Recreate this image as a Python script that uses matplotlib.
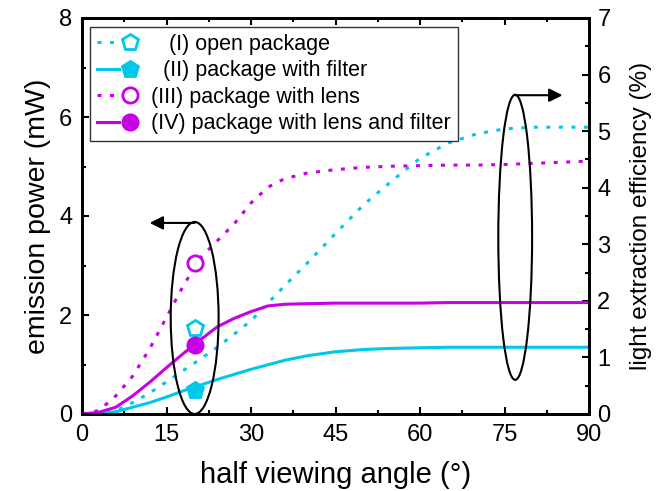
import matplotlib
matplotlib.use("Agg")
import matplotlib.pyplot as plt
from matplotlib.patches import Ellipse
from matplotlib.legend_handler import HandlerTuple
from matplotlib.ticker import MultipleLocator

plt.rcParams['font.family'] = ['Liberation Sans', 'DejaVu Sans']

# half viewing angle (deg)
angle = [0, 3, 6, 9, 12, 15, 18, 21, 24, 27, 30, 33, 36, 40, 45, 50, 55, 60,
         65, 70, 75, 80, 85, 90]

# light extraction efficiency (%)
eff_open = [0, 0.0, 0.06, 0.2, 0.37, 0.57, 0.77, 0.97, 1.18, 1.41, 1.65, 1.96,
            2.27, 2.67, 3.19, 3.70, 4.12, 4.52, 4.79, 4.95, 5.04, 5.07, 5.07, 5.07]
eff_filter = [0, 0.0, 0.04, 0.12, 0.20, 0.30, 0.41, 0.51, 0.61, 0.70, 0.79, 0.87,
              0.95, 1.03, 1.10, 1.14, 1.16, 1.17, 1.18, 1.18, 1.18, 1.18, 1.18, 1.18]
eff_lens = [0, 0.06, 0.32, 0.67, 1.15, 1.71, 2.27, 2.76, 3.06, 3.36, 3.73, 4.01,
            4.16, 4.26, 4.32, 4.36, 4.38, 4.39, 4.40, 4.40, 4.41, 4.43, 4.45, 4.47]
eff_lens_filter = [0, 0.03, 0.12, 0.32, 0.56, 0.82, 1.07, 1.31, 1.54, 1.69, 1.81,
                   1.91, 1.94, 1.95, 1.96, 1.96, 1.96, 1.96, 1.97, 1.97, 1.97, 1.97,
                   1.97, 1.97]

# emission power (mW) measured at 20 deg
power_angle = 20
power_open = 1.74
power_filter = 0.48
power_lens = 3.05
power_lens_filter = 1.39

labels = ["   (I) open package", "  (II) package with filter",
          "(III) package with lens", "(IV) package with lens and filter"]

cyan = '#00C8E8'
magenta = '#C800E8'
dot = (0, (1.3, 2.8))

fig = plt.figure(figsize=(6.63, 4.91), dpi=100)
ax = fig.add_axes([82/663, 1 - 414/491, 507/663, 396/491])
ax2 = ax.twinx()

lw = 2.2
l1, = ax2.plot(angle, eff_open, color=cyan, lw=lw, ls=dot, dash_capstyle='butt')
l2, = ax2.plot(angle, eff_filter, color=cyan, lw=lw, ls='-')
l3, = ax2.plot(angle, eff_lens, color=magenta, lw=lw, ls=dot, dash_capstyle='butt')
l4, = ax2.plot(angle, eff_lens_filter, color=magenta, lw=lw, ls='-')

# emission power markers, drawn on the left-axis scale (8 mW <-> 7 %)
conv = 7 / 8
ms = 11
m1, = ax2.plot([power_angle], [power_open * conv], ls='none', marker='p', ms=ms + 1,
               mfc='white', mec=cyan, mew=2)
m2, = ax2.plot([power_angle], [power_filter * conv], ls='none', marker='p', ms=ms + 1,
               mfc=cyan, mec=cyan, mew=2)
m3, = ax2.plot([power_angle], [power_lens * conv], ls='none', marker='o', ms=ms,
               mfc='white', mec=magenta, mew=2)
m4, = ax2.plot([power_angle], [power_lens_filter * conv], ls='none', marker='o', ms=ms,
               mfc=magenta, mec=magenta, mew=2)

ax.set_xlim(0, 90)
ax.set_ylim(0, 8)
ax2.set_ylim(0, 7)

ax.xaxis.set_major_locator(MultipleLocator(15))
ax.xaxis.set_minor_locator(MultipleLocator(7.5))
ax.yaxis.set_major_locator(MultipleLocator(2))
ax.yaxis.set_minor_locator(MultipleLocator(1))
ax2.yaxis.set_major_locator(MultipleLocator(1))
ax2.yaxis.set_minor_locator(MultipleLocator(0.5))

fs = 17
ax.tick_params(axis='both', which='both', direction='in', width=1.5, labelsize=fs)
ax.tick_params(axis='x', which='both', top=True, pad=7)
ax.tick_params(axis='y', which='both', pad=7)
ax.tick_params(which='major', length=5)
ax.tick_params(which='minor', length=3)
ax2.tick_params(axis='y', which='both', direction='in', width=1.5, labelsize=fs, pad=6)
ax2.tick_params(which='major', length=5)
ax2.tick_params(which='minor', length=3)
for a in (ax, ax2):
    for s in a.spines.values():
        s.set_linewidth(2)

ax.set_xlabel("half viewing angle (\u00b0)", fontsize=21, labelpad=11)
ax.set_ylabel("emission power (mW)", fontsize=20.5, labelpad=6)
ax2.set_ylabel("light extraction efficiency (%)", fontsize=17.5, labelpad=14)

# Ellipses grouping the series, with arrows pointing to the relevant axis
ax2.add_patch(Ellipse((20, 1.94 * conv), 8.5, 3.88 * conv, fill=False,
                      ec='black', lw=1.5, zorder=5))
ax2.annotate('', xy=(12.0, 3.86 * conv), xytext=(20, 3.86 * conv),
             arrowprops=dict(arrowstyle='-|>', color='black', lw=1.5,
                             mutation_scale=20, shrinkA=0, shrinkB=0))
ax2.add_patch(Ellipse((76.9, 3.57 * conv), 6.0, 5.76 * conv, fill=False,
                      ec='black', lw=1.5, zorder=5))
ax2.annotate('', xy=(85.3, 6.44 * conv), xytext=(76.9, 6.44 * conv),
             arrowprops=dict(arrowstyle='-|>', color='black', lw=1.5,
                             mutation_scale=20, shrinkA=0, shrinkB=0))

leg = ax2.legend([(l1, m1), (l2, m2), (l3, m3), (l4, m4)], labels,
                 handler_map={tuple: HandlerTuple(ndivide=None, pad=0)},
                 loc='upper left', bbox_to_anchor=(0.016, 0.977), borderaxespad=0,
                 fontsize=15.5, handlelength=2.1, handletextpad=0.45,
                 labelspacing=0.26, borderpad=0.3, frameon=True, fancybox=False)
leg.get_frame().set_edgecolor('black')
leg.get_frame().set_linewidth(1.0)

fig.savefig("out.png", dpi=100)
